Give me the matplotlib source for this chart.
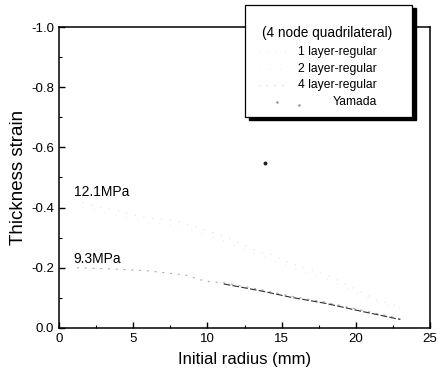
import matplotlib.pyplot as plt
import matplotlib.patches as mpatches
from matplotlib.lines import Line2D

plt.rcParams['font.family'] = ['Liberation Sans', 'DejaVu Sans']
plt.rcParams['axes.unicode_minus'] = False

# 12.1MPa curves (faded in the scan)
r_hi = [1.6, 6.0, 8.0, 10.4, 11.1, 13.5, 14.2, 15.7, 18.2, 21.0, 21.4, 23.0]
eps_hi_1 = [-0.415, -0.365, -0.355, -0.316, -0.306, -0.252, -0.246, -0.213, -0.173, -0.103, -0.093, -0.070]
eps_hi_2 = [-0.40, -0.35, -0.34, -0.30, -0.29, -0.24, -0.23, -0.20, -0.16, -0.095, -0.085, -0.065]

# 9.3MPa curves
r_lo = [1.2, 3.6, 5.9, 8.5, 9.5, 10.2, 11.1, 12.2, 13.7, 15.6, 17.9, 20.3, 22.6, 23.0]
eps_lo_1 = [-0.200, -0.196, -0.190, -0.176, -0.160, -0.153, -0.150, -0.140, -0.126, -0.106, -0.086, -0.060, -0.035, -0.030]
eps_lo_2 = [-0.195, -0.192, -0.186, -0.172, -0.158, -0.150, -0.146, -0.136, -0.122, -0.102, -0.082, -0.056, -0.032, -0.028]

# Yamada measured point
r_yam = [13.9]
eps_yam = [-0.548]

legend_labels = ['1 layer-regular', '2 layer-regular', '4 layer-regular', 'Yamada']

fig = plt.figure(figsize=(4.37, 3.76), dpi=100)
ax = fig.add_axes([0.135, 0.128, 0.849, 0.80])

ax.plot(r_hi, eps_hi_1, color='#e2e2e2', lw=0.8, ls=(0, (1, 7)))
ax.plot(r_hi, eps_hi_2, color='#ececec', lw=0.8, ls=(0, (1, 9)))
ax.plot(r_lo, eps_lo_1, color='#b0b0b0', lw=0.8, ls=(0, (2, 5)))
ax.plot(r_lo[6:], eps_lo_2[6:], color='#303030', lw=0.8, ls=(0, (6, 2)))
ax.plot(r_yam, eps_yam, 'o', color='#202020', ms=1.8)

ax.text(1.0, -0.44, '12.1MPa', fontsize=10)
ax.text(1.0, -0.215, '9.3MPa', fontsize=10)

ax.set_xlim(0, 25)
ax.set_ylim(0, -1.0)
ax.set_xticks([0, 5, 10, 15, 20, 25])
ax.set_xticks([2.5, 7.5, 12.5, 17.5, 22.5], minor=True)
ax.set_yticks([0.0, -0.2, -0.4, -0.6, -0.8, -1.0])
ax.set_yticks([-0.1, -0.3, -0.5, -0.7, -0.9], minor=True)
ax.set_yticklabels(['0.0', '-0.2', '-0.4', '-0.6', '-0.8', '-1.0'])
ax.tick_params(direction='in', labelsize=9.5, length=4, width=1)
ax.tick_params(which='minor', direction='in', length=2.5, width=0.8)
for s in ax.spines.values():
    s.set_linewidth(1.1)

ax.set_xlabel('Initial radius (mm)', fontsize=12, labelpad=5)
ax.set_ylabel('Thickness strain', fontsize=13.5, labelpad=3)

# legend box with shadow, drawn in figure coords
lx0, ly0, lw, lh = 0.561, 0.689, 0.382, 0.298
fig.add_artist(mpatches.Rectangle((lx0 + 0.008, ly0 - 0.009), lw, lh,
                                  transform=fig.transFigure, facecolor='black', edgecolor='black', zorder=5))
fig.add_artist(mpatches.Rectangle((lx0, ly0), lw, lh, transform=fig.transFigure,
                                  facecolor='white', edgecolor='black', lw=0.9, zorder=6))
fig.text(0.748, 0.912, '(4 node quadrilateral)', fontsize=9.8, ha='center', va='center', zorder=7)
row_y = [0.861, 0.816, 0.773, 0.728]
handle_style = [('#e8e8e8', (0, (1, 7))), ('#eeeeee', (0, (1, 9))), ('#e4e4e4', (0, (2, 5)))]
for i, lab in enumerate(legend_labels):
    fig.text(0.862, row_y[i], lab, fontsize=8.7, ha='right', va='center', zorder=7)
    if i < 3:
        c, ls = handle_style[i]
        fig.add_artist(Line2D([0.59, 0.66], [row_y[i], row_y[i]], transform=fig.transFigure,
                              color=c, lw=0.8, ls=ls, zorder=7))
fig.add_artist(Line2D([0.634, 0.684], [row_y[3], row_y[3] - 0.006], transform=fig.transFigure,
                      marker='.', ms=1.5, lw=0, color='#909090', zorder=7))

fig.savefig('out.png', dpi=100)
